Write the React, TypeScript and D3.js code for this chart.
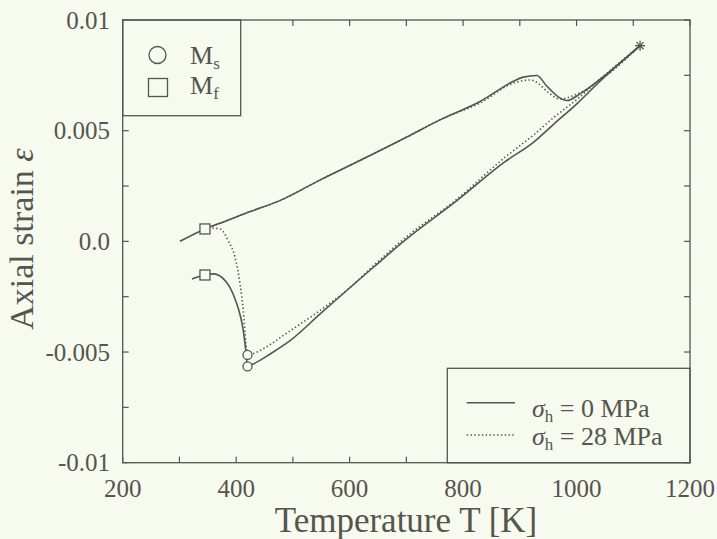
import React from 'react'
import * as d3 from 'd3'

// temperature [K], axial strain
const solidUpperT = [301, 345, 380, 420, 477, 550, 618, 700, 760, 830, 888, 906, 930, 947, 974, 983, 1006, 1053, 1112]
const solidUpperE = [0.0, 0.00056, 0.0009, 0.0013, 0.00184, 0.0028, 0.00365, 0.0047, 0.0055, 0.00632, 0.00722, 0.00742, 0.00749, 0.00703, 0.00643, 0.00636, 0.00666, 0.00756, 0.00884]

const solidLowerT = [1112, 1040, 1000, 960, 924, 874, 789, 700, 642, 548, 495, 460, 430, 420, 417, 412.6, 408, 398, 383, 360, 345, 322]
const solidLowerE = [0.00884, 0.0072, 0.0062, 0.0053, 0.00447, 0.0036, 0.00184, 0.0001, -0.00117, -0.00328, -0.00449, -0.00509, -0.00554, -0.00565, -0.00494, -0.00403, -0.00343, -0.0026, -0.00185, -0.00147, -0.00152, -0.0017]

const dottedUpperT = [345, 380, 420, 477, 550, 618, 700, 760, 830, 888, 918, 930, 950, 971, 994, 1053, 1112]
const dottedUpperE = [0.00056, 0.0009, 0.0013, 0.00184, 0.0028, 0.00365, 0.0047, 0.0055, 0.00625, 0.00714, 0.00729, 0.00718, 0.00673, 0.00643, 0.00658, 0.0075, 0.00884]

const dottedLowerT = [1112, 1040, 1000, 960, 924, 874, 789, 700, 642, 600, 548, 489, 460, 436, 420, 417.3, 412.6, 406.8, 398, 386, 371.5, 355, 345]
const dottedLowerE = [0.00884, 0.0073, 0.0064, 0.0056, 0.0048, 0.0038, 0.0019, 0.0002, -0.0011, -0.0021, -0.00312, -0.00415, -0.00466, -0.00501, -0.00513, -0.00464, -0.00313, -0.00192, -0.00072, 0.00003, 0.00056, 0.0006, 0.00056]

// markers
const msT = [420, 420]
const msE = [-0.00513, -0.00565]
const mfT = [345, 345]
const mfE = [0.00056, -0.00152]
const endT = 1112
const endE = 0.00884

const xTicks = d3.range(200, 1201, 100)
const xLabels = ['200', '400', '600', '800', '1000', '1200']
const yTicks = d3.range(-0.01, 0.01001, 0.0025)
const yLabelVals = [0.01, 0.005, 0.0, -0.005, -0.01]
const yLabels = ['0.01', '0.005', '0.0', '-0.005', '-0.01']

const W = 717
const H = 539
const bg = '#f7faee'
const ink = '#55554f'
const font = "'Liberation Serif', 'DejaVu Serif', serif"

const x = d3.scaleLinear().domain([200, 1200]).range([122.7, 690])
const y = d3.scaleLinear().domain([-0.01, 0.01]).range([462.7, 20])

// sort by temperature so a monotone curve can be used
const zip = (ts: number[], es: number[]) =>
  ts.map((t, i) => [t, es[i]] as [number, number]).sort((a, b) => a[0] - b[0])

const line = d3.line<[number, number]>()
  .x(d => x(d[0]))
  .y(d => y(d[1]))
  .curve(d3.curveMonotoneX)

export default function App() {
  const x0 = x.range()[0], x1 = x.range()[1]
  const y0 = y.range()[0], y1 = y.range()[1]
  const tk = 6

  return (
    <svg width={W} height={H} style={{ position: 'absolute', left: 0, top: 0, background: bg, fontFamily: font }}
      fill={ink}>
      <rect x={0} y={0} width={W} height={H} fill={bg} />

      {/* ticks */}
      {xTicks.map(t => (
        <g key={'xt' + t} stroke={ink} strokeWidth={1.2}>
          <line x1={x(t)} x2={x(t)} y1={y0} y2={y0 - tk} />
          <line x1={x(t)} x2={x(t)} y1={y1} y2={y1 + tk} />
        </g>
      ))}
      {yTicks.map(v => (
        <g key={'yt' + v} stroke={ink} strokeWidth={1.2}>
          <line x1={x0} x2={x0 + tk} y1={y(v)} y2={y(v)} />
          <line x1={x1} x2={x1 - tk} y1={y(v)} y2={y(v)} />
        </g>
      ))}

      {/* curves */}
      <g fill="none" stroke={ink}>
        <path d={line(zip(solidUpperT, solidUpperE)) || ''} strokeWidth={1.6} />
        <path d={line(zip(solidLowerT, solidLowerE)) || ''} strokeWidth={1.6} />
        <path d={line(zip(dottedUpperT, dottedUpperE)) || ''} strokeWidth={1.6} strokeDasharray="1.4 2.4" />
        <path d={line(zip(dottedLowerT, dottedLowerE)) || ''} strokeWidth={1.6} strokeDasharray="1.4 2.4" />
      </g>

      {/* markers */}
      {msT.map((t, i) => (
        <circle key={'ms' + i} cx={x(t)} cy={y(msE[i])} r={4.5} fill={bg} stroke={ink} strokeWidth={1.3} />
      ))}
      {mfT.map((t, i) => (
        <rect key={'mf' + i} x={x(t) - 5} y={y(mfE[i]) - 5} width={10} height={10} fill={bg} stroke={ink} strokeWidth={1.3} />
      ))}
      <g stroke={ink} strokeWidth={1.3}>
        {[0, 45, 90, 135].map(a => {
          const r = 5, rad = a * Math.PI / 180
          return <line key={'st' + a} x1={x(endT) - r * Math.cos(rad)} y1={y(endE) - r * Math.sin(rad)}
            x2={x(endT) + r * Math.cos(rad)} y2={y(endE) + r * Math.sin(rad)} />
        })}
      </g>

      {/* legend top-left */}
      <rect x={x0} y={y1} width={240.7 - x0} height={115.7 - y1} fill={bg} stroke={ink} strokeWidth={1.3} />
      <circle cx={157.5} cy={55} r={8.5} fill="none" stroke={ink} strokeWidth={1.3} />
      <rect x={148.5} y={78.5} width={19} height={18} fill="none" stroke={ink} strokeWidth={1.3} />
      <text x={190} y={63.5} fontSize={26}>M<tspan fontSize={17} dy={5}>s</tspan></text>
      <text x={190} y={93.5} fontSize={26}>M<tspan fontSize={17} dy={5}>f</tspan></text>

      {/* legend bottom-right */}
      <rect x={447.3} y={368.3} width={x1 - 447.3} height={y0 - 368.3} fill={bg} stroke={ink} strokeWidth={1.3} />
      <line x1={466.7} x2={515} y1={402.7} y2={402.7} stroke={ink} strokeWidth={1.6} />
      <line x1={466.7} x2={515} y1={435} y2={435} stroke={ink} strokeWidth={1.4} strokeDasharray="1.4 2.4" />
      <text x={532} y={416.5} fontSize={26}><tspan fontStyle="italic">σ</tspan><tspan fontSize={17} dy={5}>h</tspan><tspan dy={-5}> = 0 MPa</tspan></text>
      <text x={532} y={445} fontSize={26}><tspan fontStyle="italic">σ</tspan><tspan fontSize={17} dy={5}>h</tspan><tspan dy={-5}> = 28 MPa</tspan></text>

      {/* frame */}
      <rect x={x0} y={y1} width={x1 - x0} height={y0 - y1} fill="none" stroke={ink} strokeWidth={1.3} />

      {/* tick labels */}
      {xLabels.map(l => (
        <text key={'xl' + l} x={x(+l)} y={497} fontSize={25} textAnchor="middle">{l}</text>
      ))}
      {yLabelVals.map((v, i) => (
        <text key={'yl' + i} x={110} y={y(v) + 8.5} fontSize={25} textAnchor="end">{yLabels[i]}</text>
      ))}

      {/* axis titles */}
      <text x={406} y={532} fontSize={35} textAnchor="middle">Temperature T [K]</text>
      <text transform="translate(33,239) rotate(-90)" fontSize={34} textAnchor="middle">Axial strain <tspan fontStyle="italic">ε</tspan></text>
    </svg>
  )
}
